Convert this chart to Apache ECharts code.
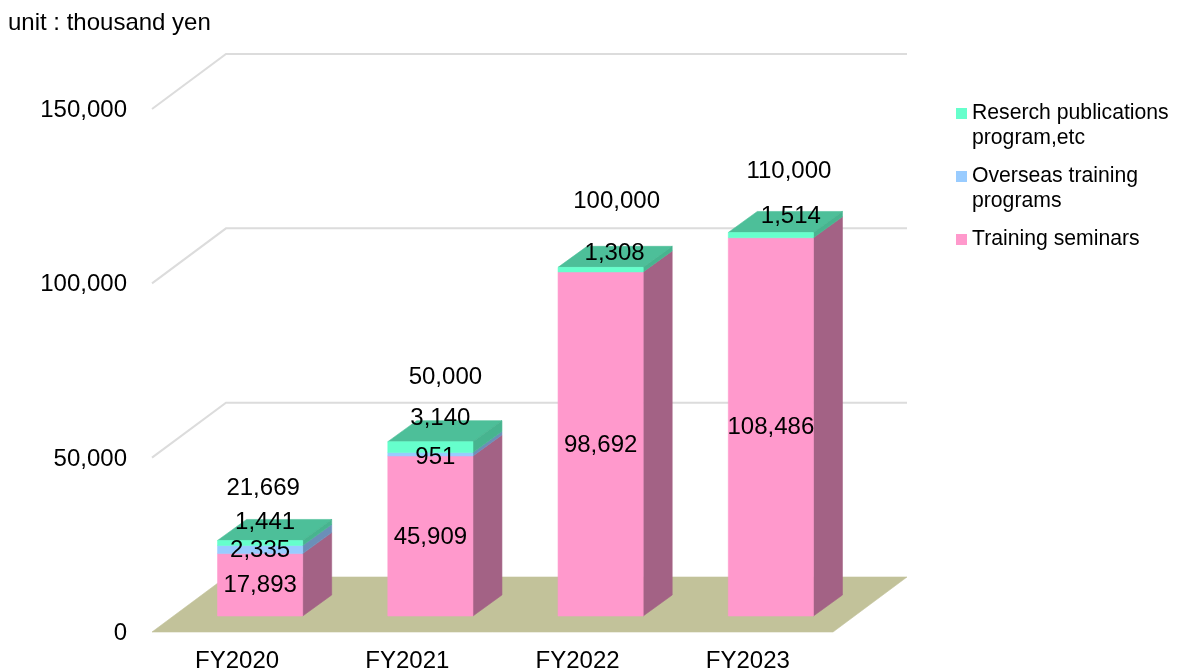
<!DOCTYPE html>
<html>
<head>
<meta charset="utf-8">
<title>Revenue by program</title>
<script src="https://cdn.jsdelivr.net/npm/echarts@6/dist/echarts.min.js"></script>
<style>
  html, body { margin: 0; padding: 0; background: #fff; }
  #chart { width: 1177px; height: 671px; }
</style>
</head>
<body>
<div id="chart"></div>
<script>
const categories = ['FY2020', 'FY2021', 'FY2022', 'FY2023'];
const training = [17893, 45909, 98692, 108486];
const overseas = [2335, 951, 0, 0];
const research = [1441, 3140, 1308, 1514];
const totals = [21669, 50000, 100000, 110000];
const wallTicks = [0, 50000, 100000, 150000];

const trainingName = 'Training seminars';
const overseasName = 'Overseas training\nprograms';
const researchName = 'Reserch publications\nprogram,etc';

// label nudges in px, the source chart placed these by hand
const trainingShift = [[0, 0], [0, 0], [0, 0], [0, 0]];
const overseasShift = [[0, 0], [5, 2], [0, 0], [0, 0]];
const researchShift = [[5, -22], [10, -30], [14, -17], [20, -20]];
const totalShift = [[3, -53], [15, -65], [16, -67], [18, -62]];

// fake 3d: offsets of back wall, of the bars on the floor, and of bar depth
const WALL = [74, -55];
const BAR_BASE = [23, -16];
const BAR_DEPTH = [29, -21];
const FAMILY = '"Liberation Sans", Arial, sans-serif';
const FONT = '24px ' + FAMILY;

function poly(points, fill){
  // thin stroke in the same colour closes the seams between faces
  return { type: 'polygon', shape: { points: points }, style: { fill: fill, stroke: fill, lineWidth: 0.6 }, silent: true };
}

function renderWall(params, api){
  const value = api.value(0);
  const cs = params.coordSys;
  const left = cs.x;
  const right = cs.x + cs.width;
  const y = api.coord([0, value])[1];
  if(value === 0){
    return poly([
      [left, y], [right, y],
      [right + WALL[0], y + WALL[1]], [left + WALL[0], y + WALL[1]]
    ], '#c2c29a');
  }
  return {
    type: 'polyline',
    shape: { points: [[left, y], [left + WALL[0], y + WALL[1]], [right + WALL[0], y + WALL[1]]] },
    style: { fill: null, stroke: '#dcdcdc', lineWidth: 2 },
    silent: true
  };
}

function renderSegment(colors, withTop){
  return function(params, api){
    const start = api.value(1);
    const end = api.value(2);
    if(end <= start) return null;
    const center = api.coord([api.value(0), 0])[0] + BAR_BASE[0];
    const half = api.size([1, 0])[0] / 4;
    const yb = api.coord([0, start])[1] + BAR_BASE[1];
    const yt = api.coord([0, end])[1] + BAR_BASE[1];
    const x0 = center - half;
    const x1 = center + half;
    const dx = BAR_DEPTH[0];
    const dy = BAR_DEPTH[1];
    const children = [
      poly([[x1, yb], [x1 + dx, yb + dy], [x1 + dx, yt + dy], [x1, yt]], colors[1]),
      poly([[x0, yb], [x1, yb], [x1, yt], [x0, yt]], colors[0])
    ];
    if(withTop){
      children.unshift(poly([[x0, yt], [x1, yt], [x1 + dx, yt + dy], [x0 + dx, yt + dy]], colors[2]));
    }
    return { type: 'group', children: children };
  };
}

function renderLabel(params, api){
  const p = api.coord([api.value(0), api.value(1)]);
  return {
    type: 'text',
    x: p[0] + BAR_BASE[0] + api.value(3),
    y: p[1] + BAR_BASE[1] + api.value(4) + 1,
    style: { text: api.value(2), font: FONT, fill: '#000', align: 'center', verticalAlign: 'middle' },
    silent: true
  };
}

// stacked [category, start, end] rows
const below = [];
function stackRows(values){
  return values.map((v, i)=>{
    const start = below[i] || 0;
    below[i] = start + v;
    return [i, start, start + v];
  });
}
const trainingRows = stackRows(training);
const overseasRows = stackRows(overseas);
const researchRows = stackRows(research);

const labelRows = [];
function addLabels(rows, values, shift){
  rows.forEach((r, i)=>{
    if(!values[i]) return;
    labelRows.push([r[0], (r[1] + r[2]) / 2, values[i].toLocaleString('en-US'), shift[i][0], shift[i][1]]);
  });
}
addLabels(trainingRows, training, trainingShift);
addLabels(overseasRows, overseas, overseasShift);
addLabels(researchRows, research, researchShift);
totals.forEach((t, i)=>{
  labelRows.push([i, t, t.toLocaleString('en-US'), totalShift[i][0], totalShift[i][1]]);
});

function legendEntry(name, color, top){
  return {
    left: 956,
    top: top,
    padding: 0,
    selectedMode: false,
    icon: 'rect',
    itemWidth: 11,
    itemHeight: 11,
    data: [{ name: name, itemStyle: { color: color } }],
    // blank line above wrapped names keeps the marker on their first line
    formatter: (n)=>(n.indexOf('\n') >= 0 ? '\n' + n : n),
    textStyle: { fontFamily: FAMILY, fontSize: 21.2, lineHeight: 25, color: '#000' }
  };
}

const chart = echarts.init(document.getElementById('chart'), null, { renderer: 'canvas' });
chart.setOption({
  animation: false,
  backgroundColor: '#fff',
  title: {
    text: 'unit : thousand yen',
    left: 8,
    top: 11,
    padding: 0,
    textStyle: { fontFamily: FAMILY, fontSize: 24, fontWeight: 'normal', color: '#000' }
  },
  legend: [
    legendEntry(researchName, '#66ffcc', 76),
    legendEntry(overseasName, '#99ccff', 139),
    legendEntry(trainingName, '#ff99cc', 227)
  ],
  grid: { left: 152, top: 109, width: 681, height: 523, outerBoundsMode: 'none' },
  xAxis: {
    type: 'category',
    data: categories,
    axisLine: { show: false },
    axisTick: { show: false },
    axisLabel: { margin: 17, color: '#000', fontFamily: FAMILY, fontSize: 24 }
  },
  yAxis: {
    type: 'value',
    min: 0,
    max: 150000,
    interval: 50000,
    axisLine: { show: false },
    axisTick: { show: false },
    splitLine: { show: false },
    axisLabel: {
      margin: 25,
      color: '#000',
      fontFamily: FAMILY,
      fontSize: 24,
      formatter: (v)=>'{v|' + v.toLocaleString('en-US') + '}',
      rich: { v: { fontFamily: FAMILY, fontSize: 24, color: '#000', padding: [3, 0, 0, 0] } }
    }
  },
  series: [
    { type: 'custom', name: 'wall', z: 1, data: wallTicks.map((v)=>[v]), renderItem: renderWall, encode: { y: 0 } },
    { type: 'custom', name: trainingName, z: 2, data: trainingRows, itemStyle: { color: '#ff99cc' },
      renderItem: renderSegment(['#ff99cc', '#a36285'], false), encode: { x: 0, y: [1, 2] } },
    { type: 'custom', name: overseasName, z: 3, data: overseasRows, itemStyle: { color: '#99ccff' },
      renderItem: renderSegment(['#99ccff', '#6b8fb8'], false), encode: { x: 0, y: [1, 2] } },
    { type: 'custom', name: researchName, z: 4, data: researchRows, itemStyle: { color: '#66ffcc' },
      renderItem: renderSegment(['#66ffcc', '#47b48f', '#4dbf99'], true), encode: { x: 0, y: [1, 2] } },
    { type: 'custom', name: 'labels', z: 5, data: labelRows, renderItem: renderLabel,
      dimensions: ['cat', 'val', { name: 'text', type: 'ordinal' }, 'dx', 'dy'], encode: { x: 0, y: 1 } }
  ]
});
</script>
</body>
</html>
